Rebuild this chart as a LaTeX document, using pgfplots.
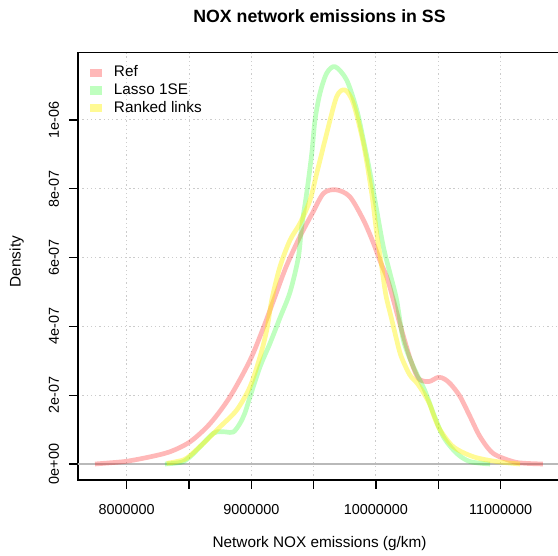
\documentclass[border=0pt]{standalone}
\usepackage{pgfplots}
\pgfplotsset{compat=1.18}
\usepackage{fontspec}
\setmainfont{Liberation Sans}

\begin{document}
\begin{tikzpicture}
\begin{axis}[
    name=ax,
    scale only axis,
    width=362.25pt, height=320.6pt,
    xmin=7609000, xmax=11485000,
    ymin=-4.65e-8, ymax=1.196e-6,
    axis line style={line width=0.9pt},
    tick pos=left,
    tick align=outside,
    major tick length=6.75pt,
    tick style={black, line width=0.9pt},
    xtick={8000000,8500000,9000000,9500000,10000000,10500000,11000000},
    xticklabels={8000000,,9000000,,10000000,,11000000},
    ytick={0,2e-7,4e-7,6e-7,8e-7,1e-6},
    yticklabels={0e+00,2e-07,4e-07,6e-07,8e-07,1e-06},
    scaled ticks=false,
    xticklabel shift=19.5pt,
    xticklabel style={anchor=base, font=\fontsize{10.8}{12}\selectfont},
    yticklabel style={xshift=-7.5pt, rotate=90, anchor=base, font=\fontsize{10.8}{12}\selectfont},
    grid=major,
    grid style={gray!40, line width=0.7pt, dash pattern=on 1pt off 2.2pt},
    title={NOX network emissions in SS},
    title style={at={(axis description cs:0.5,1.052)}, anchor=base, font=\bfseries\fontsize{13.3}{15}\selectfont},
    xlabel={Network NOX emissions (g/km)},
    xlabel style={at={(axis description cs:0.5,-0.159)}, anchor=base, font=\fontsize{11.5}{13}\selectfont},
    ylabel={Density},
    ylabel style={at={(axis description cs:-0.119,0.511)}, anchor=base, font=\fontsize{11.5}{13}\selectfont},
    legend image code/.code={\path[#1, draw=none, fill] (0pt,-3.1pt) rectangle (8.75pt,3.1pt);},
    legend cell align=left,
    legend style={draw=none, fill=none, at={(axis description cs:0,1)}, anchor=north west,
        xshift=9pt, yshift=-9.4pt, font=\fontsize{11.5}{13}\selectfont,
        row sep=2.3pt, inner sep=0pt,
        nodes={inner sep=0pt, text height=8.5pt, text depth=2.5pt},
        /tikz/every odd column/.append style={column sep=9pt}},
]
\addplot[gray!55, line width=0.8pt, forget plot] coordinates {(7500000,0) (11600000,0)};

\addplot[red, opacity=0.28, line width=3.5pt, smooth, line join=round] coordinates {
(7746000,0) (7850000,0.03e-7) (8000000,0.08e-7) (8190000,0.21e-7) (8350000,0.36e-7)
(8510000,0.65e-7) (8670000,1.18e-7) (8830000,1.96e-7) (8990000,3.02e-7) (9100000,3.99e-7)
(9180000,4.77e-7) (9280000,5.74e-7) (9390000,6.61e-7) (9490000,7.29e-7) (9580000,7.87e-7)
(9680000,7.97e-7) (9790000,7.77e-7) (9900000,7.09e-7) (9980000,6.42e-7) (10030000,5.93e-7)
(10090000,5.40e-7) (10140000,4.77e-7) (10190000,4.10e-7) (10270000,3.11e-7) (10330000,2.55e-7)
(10370000,2.42e-7) (10430000,2.40e-7) (10500000,2.52e-7) (10550000,2.47e-7) (10600000,2.32e-7)
(10675000,1.96e-7) (10755000,1.38e-7) (10836000,0.79e-7) (10940000,0.31e-7) (11100000,0.07e-7)
(11200000,0.02e-7) (11340000,0)
};
\addlegendentry{Ref}

\addplot[green, opacity=0.25, line width=3.5pt, smooth, line join=round] coordinates {
(8307000,0) (8380000,0.02e-7) (8454000,0.07e-7) (8520000,0.25e-7) (8588000,0.50e-7)
(8695000,0.89e-7) (8749000,0.94e-7) (8800000,0.93e-7) (8856000,0.93e-7) (8909000,1.18e-7)
(8950000,1.50e-7) (8990000,1.96e-7) (9070000,2.83e-7) (9150000,3.51e-7) (9230000,4.25e-7)
(9311000,5.00e-7) (9377000,6.00e-7) (9404000,6.90e-7) (9444000,7.87e-7) (9485000,9.03e-7)
(9511000,10.0e-7) (9551000,10.78e-7) (9605000,11.36e-7) (9672000,11.55e-7) (9765000,11.16e-7)
(9846000,10.29e-7) (9899000,9.42e-7) (9953000,8.45e-7) (10006000,7.38e-7) (10059000,6.32e-7)
(10113000,5.54e-7) (10166000,4.77e-7) (10220000,3.60e-7) (10300000,2.83e-7) (10390000,2.15e-7)
(10461000,1.47e-7) (10541000,0.79e-7) (10648000,0.31e-7) (10755000,0.07e-7) (10916000,0)
};
\addlegendentry{Lasso 1SE}

\addplot[yellow, opacity=0.42, line width=3.5pt, smooth, line join=round] coordinates {
(8321000,0.02e-7) (8400000,0.07e-7) (8482000,0.17e-7) (8615000,0.60e-7) (8749000,1.08e-7)
(8883000,1.57e-7) (8990000,2.25e-7) (9070000,3.12e-7) (9124000,3.90e-7) (9164000,4.77e-7)
(9230000,5.74e-7) (9311000,6.51e-7) (9391000,7.00e-7) (9471000,7.67e-7) (9525000,8.45e-7)
(9605000,9.61e-7) (9685000,10.68e-7) (9752000,10.87e-7) (9818000,10.49e-7) (9899000,9.32e-7)
(9966000,7.87e-7) (10006000,6.71e-7) (10046000,5.74e-7) (10080000,4.90e-7) (10120000,4.30e-7)
(10160000,3.70e-7) (10200000,3.15e-7) (10270000,2.60e-7) (10330000,2.35e-7) (10380000,2.08e-7)
(10430000,1.75e-7) (10470000,1.35e-7) (10515000,0.99e-7) (10621000,0.50e-7) (10782000,0.21e-7)
(10969000,0.07e-7) (11156000,0)
};
\addlegendentry{Ranked links}
\end{axis}
\pgfresetboundingbox
\useasboundingbox ([xshift=-58.5pt,yshift=-57pt]ax.south west) rectangle ([xshift=360pt,yshift=39.4pt]ax.north west);
\end{tikzpicture}
\end{document}
